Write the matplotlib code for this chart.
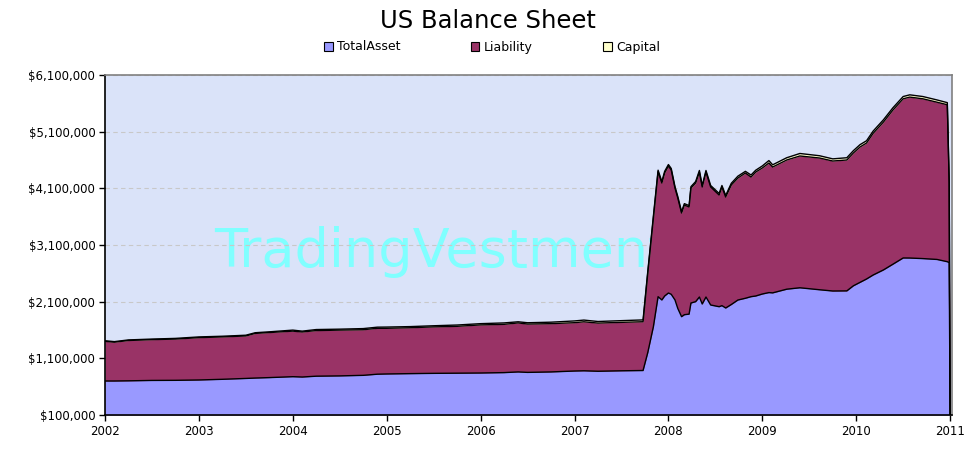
import matplotlib
matplotlib.use("Agg")
import matplotlib.pyplot as plt
from matplotlib.patches import Patch
from matplotlib.ticker import FuncFormatter

# decimal years; values in thousands of dollars (stacked levels)
years = [
    2002.00, 2002.10, 2002.25, 2002.50, 2002.75, 2003.00, 2003.25, 2003.50, 2003.60, 2003.75,
    2004.00, 2004.10, 2004.25, 2004.50, 2004.75, 2004.90, 2005.00, 2005.25, 2005.50, 2005.75,
    2006.00, 2006.25, 2006.40, 2006.50, 2006.75, 2007.00, 2007.10, 2007.25, 2007.50, 2007.73,
    2007.78, 2007.84, 2007.89, 2007.93, 2007.96, 2008.00, 2008.03, 2008.07, 2008.10, 2008.14,
    2008.17, 2008.22, 2008.24, 2008.29, 2008.33, 2008.36, 2008.40, 2008.45, 2008.54, 2008.57,
    2008.61, 2008.67, 2008.74, 2008.82, 2008.88, 2008.93, 2009.00, 2009.07, 2009.11, 2009.26,
    2009.40, 2009.61, 2009.75, 2009.90, 2009.97, 2010.04, 2010.11, 2010.18, 2010.29, 2010.39,
    2010.50, 2010.57, 2010.71, 2010.86, 2010.97, 2010.99, 2011.00,
]
asset_top = [
    700, 700, 703, 710, 712, 718, 730, 745, 752, 760,
    776, 770, 785, 790, 800, 820, 824, 830, 835, 838,
    841, 848, 860, 852, 860, 876, 880, 872, 880, 885,
    1200, 1658, 2188, 2130, 2200, 2253, 2230, 2130, 1980, 1835,
    1870, 1880, 2076, 2100, 2182, 2059, 2182, 2041, 2011, 2030,
    1988, 2050, 2129, 2160, 2188, 2200, 2235, 2260, 2255, 2320,
    2345, 2310, 2288, 2290, 2380, 2440, 2500, 2570, 2660, 2760,
    2871, 2870, 2860, 2845, 2805, 2790, 0,
]
liability_top = [
    1400, 1385, 1415, 1430, 1440, 1465, 1478, 1495, 1540, 1555,
    1580, 1565, 1590, 1598, 1605, 1630, 1630, 1640, 1655, 1665,
    1690, 1700, 1725, 1705, 1712, 1729, 1745, 1722, 1735, 1746,
    2600, 3576, 4394, 4194, 4371, 4494, 4424, 4106, 3929, 3665,
    3806, 3771, 4106, 4194, 4388, 4124, 4388, 4124, 3982, 4124,
    3947, 4159, 4282, 4371, 4300, 4388, 4459, 4547, 4476, 4600,
    4671, 4635, 4582, 4600, 4724, 4829, 4900, 5070, 5270, 5480,
    5680, 5710, 5680, 5620, 5575, 4200, 0,
]
capital_top = [
    1410, 1395, 1425, 1440, 1452, 1478, 1490, 1508, 1552, 1568,
    1598, 1580, 1608, 1615, 1625, 1650, 1652, 1660, 1675, 1688,
    1712, 1725, 1745, 1728, 1738, 1760, 1775, 1750, 1765, 1778,
    2630, 3610, 4420, 4220, 4400, 4520, 4450, 4130, 3955, 3690,
    3830, 3795, 4130, 4220, 4415, 4150, 4415, 4150, 4010, 4150,
    3975, 4190, 4315, 4400, 4335, 4420, 4495, 4590, 4515, 4640,
    4715, 4675, 4620, 4640, 4765, 4870, 4940, 5110, 5310, 5520,
    5720, 5750, 5720, 5660, 5612, 4230, 0,
]
series_names = ["TotalAsset", "Liability", "Capital"]
series_colors = ["#9999FF", "#993366", "#FFFFCC"]
year_ticks = list(range(2002, 2012))
value_ticks = [100000, 1100000, 2100000, 3100000, 4100000, 5100000, 6100000]

plt.rcParams["font.family"] = ["DejaVu Sans"]

fig = plt.figure(figsize=(9.7, 4.55), dpi=100)
ax = fig.add_axes([105 / 970, 40 / 455, 847 / 970, 340 / 455])
ax.set_facecolor("#DAE3F9")

base = 100000
levels = [asset_top, liability_top, capital_top]
polys = []
for name, color, lev in zip(series_names, series_colors, levels):
    upper = [max(v * 1000, base) for v in lev]
    polys.append((name, color, upper))

# top layer first so the lower layers' outlines sit above it
for name, color, upper in reversed(polys):
    ax.fill_between(years, base, upper, color=color, lw=0, zorder=2)
    ax.plot(years, upper, color="black", lw=1.0, zorder=3)

ax.text(2003.16, 2720000, "TradingVestment", color="#80FFFF", fontsize=39,
        va="baseline", ha="left", zorder=1.5)

ax.set_xlim(2002, 2011.02)
ax.set_ylim(100000, 6100000)
ax.set_xticks(year_ticks)
ax.set_yticks(value_ticks)
ax.yaxis.set_major_formatter(FuncFormatter(lambda v, p: "${:,.0f}".format(v)))
ax.tick_params(axis="both", direction="out", length=4, width=1, labelsize=8.5,
               colors="black", pad=3)
ax.grid(axis="y", color="#C8C8C8", ls=(0, (4, 3)), lw=0.8, zorder=1)
for side in ["left", "bottom"]:
    ax.spines[side].set_color("black")
    ax.spines[side].set_linewidth(1.2)
for side in ["top", "right"]:
    ax.spines[side].set_color("#808080")
    ax.spines[side].set_linewidth(1.2)

fig.text(488 / 970, 1 - 21 / 455, "US Balance Sheet", ha="center", va="center",
         fontsize=17.5, color="black")

handles = [Patch(facecolor=c, edgecolor="black", lw=0.8) for c in series_colors]
fig.legend(handles, series_names, loc="center", bbox_to_anchor=(492 / 970, 1 - 47 / 455),
           ncol=3, frameon=False, fontsize=9, handlelength=0.7, handleheight=0.7,
           handletextpad=0.35, columnspacing=5.6)

fig.savefig("out.png", dpi=100)
